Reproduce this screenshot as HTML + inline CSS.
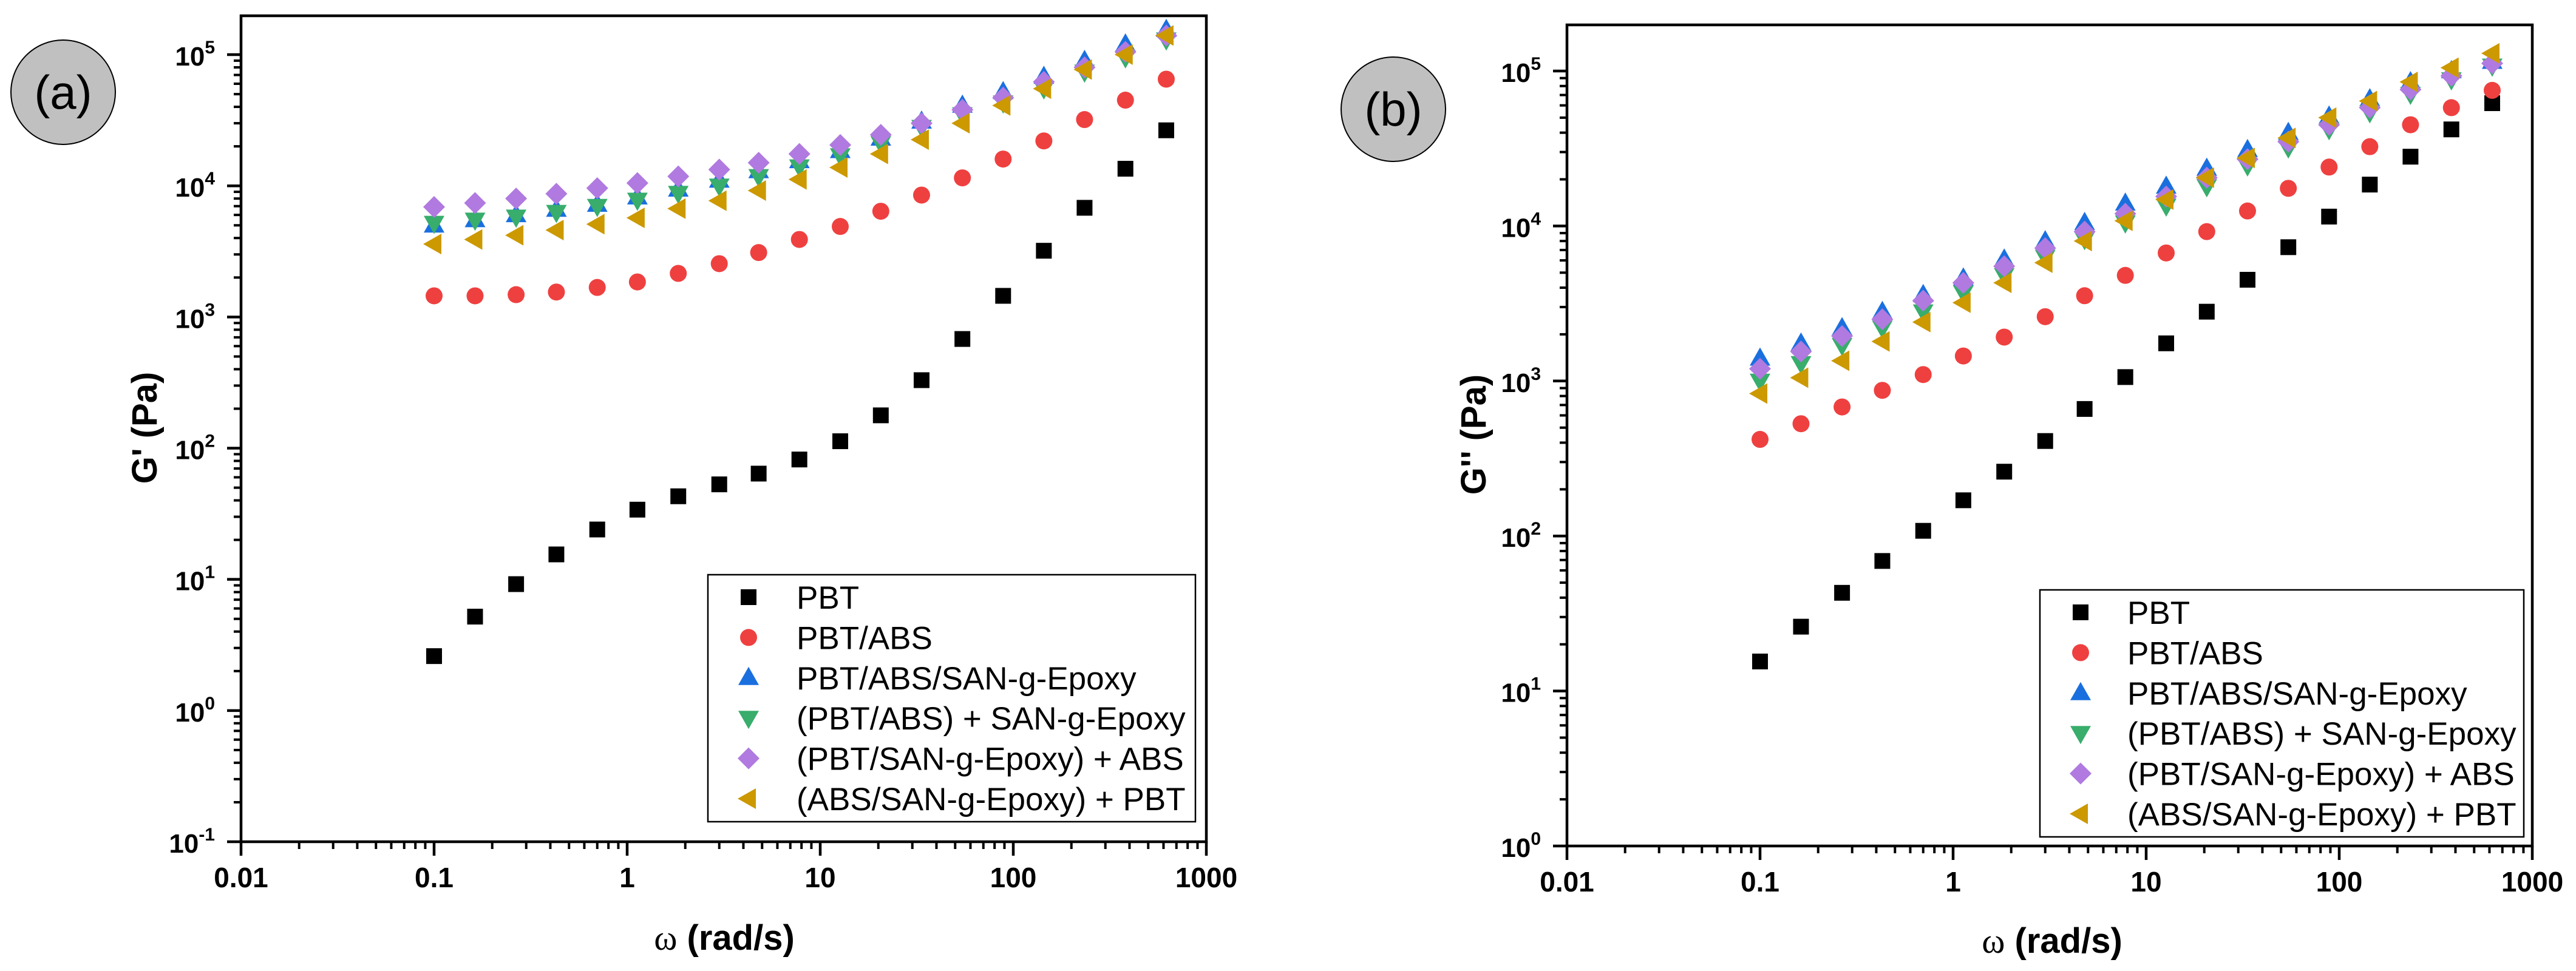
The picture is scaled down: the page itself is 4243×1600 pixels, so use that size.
<!DOCTYPE html>
<html><head><meta charset="utf-8"><style>
html,body{margin:0;padding:0;background:#fff;}
svg{display:block;font-family:"Liberation Sans",Arial,sans-serif;}
</style></head><body>
<svg id="fig" width="4243" height="1600" viewBox="0 0 4243 1600" xmlns="http://www.w3.org/2000/svg">
<rect x="0" y="0" width="4243" height="1600" fill="#fff"/>
</svg>
<script>
const omega = [0.1,0.163,0.266,0.43,0.7,1.13,1.84,3,4.8,7.8,12.7,20.6,33.5,54.5,88.6,144,234,381,620];
const seriesNames = ["PBT","PBT/ABS","PBT/ABS/SAN-g-Epoxy","(PBT/ABS) + SAN-g-Epoxy","(PBT/SAN-g-Epoxy) + ABS","(ABS/SAN-g-Epoxy) + PBT"];
const aPBT = [2.6,5.2,9.2,15.5,24,34,43,53,64,82,113,178,330,680,1450,3200,6800,13500,26500];
const aPBTABS = [1450,1450,1480,1550,1680,1850,2150,2550,3100,3900,4900,6400,8500,11500,16000,22000,32000,45000,65000];
const aBlue = [5000,5500,6000,6600,7200,8200,9400,11000,13000,15500,18500,23000,31000,41000,52000,68000,90000,120000,155000];
const aGreen = [5200,5500,5800,6300,7000,7800,8800,10000,11800,14000,17000,21000,28000,35000,43000,55000,74000,95000,130000];
const aPurple = [6900,7400,8000,8700,9600,10500,11800,13300,15000,17500,20500,24500,30000,38000,47000,62000,80000,105000,140000];
const aGold = [3600,3900,4200,4600,5100,5700,6700,7700,9200,11200,13800,17500,22500,30000,41000,55000,77000,100000,140000];
const bPBT = [15.5,26,43,69,108,170,260,410,660,1060,1750,2800,4500,7300,11500,18500,28000,42000,62000];
const bPBTABS = [420,530,680,870,1100,1450,1920,2600,3550,4800,6700,9200,12500,17500,24000,32500,45000,58000,75000];
const bBlue = [1400,1750,2200,2800,3600,4600,6100,8000,10500,14000,18000,23500,31000,40000,51000,66000,85000,100000,115000];
const bGreen = [1000,1300,1700,2200,2800,3700,4800,6300,8200,10500,13500,18000,24500,32000,42000,54000,71000,88000,108000];
const bPurple = [1200,1550,1950,2500,3300,4300,5500,7200,9200,12000,15500,20500,27000,35000,45000,58000,76000,93000,112000];
const bGold = [830,1050,1350,1800,2400,3200,4300,5800,8000,10800,14800,20500,27500,37000,50000,64000,85000,105000,130000];
const xTickLabels = ["0.01","0.1","1","10","100","1000"];
const aYExp = [-1,0,1,2,3,4,5];
const bYExp = [0,1,2,3,4,5];

const NS="http://www.w3.org/2000/svg";
const svg=document.getElementById('fig');
function mk(tag,attrs,parent){const e=document.createElementNS(NS,tag);for(const k in attrs)e.setAttribute(k,attrs[k]);(parent||svg).appendChild(e);return e;}
const colors=["#000000","#ef4040","#1a6fdf","#38ad6c","#b07ae0","#cc9900"];
const shapes=["square","circle","up","down","diamond","left"];

function marker(g,shape,cx,cy,color){
  let e;
  if(shape==="square") e=mk('rect',{x:cx-13,y:cy-13,width:26,height:26,fill:color},g);
  else if(shape==="circle") e=mk('circle',{cx:cx,cy:cy,r:14,fill:color},g);
  else if(shape==="up") e=mk('polygon',{points:`${cx},${cy-18} ${cx+17},${cy+12} ${cx-17},${cy+12}`,fill:color},g);
  else if(shape==="down") e=mk('polygon',{points:`${cx},${cy+18} ${cx+17},${cy-12} ${cx-17},${cy-12}`,fill:color},g);
  else if(shape==="diamond") e=mk('polygon',{points:`${cx},${cy-18} ${cx+18},${cy} ${cx},${cy+18} ${cx-18},${cy}`,fill:color},g);
  else e=mk('polygon',{points:`${cx-18},${cy} ${cx+12},${cy-17} ${cx+12},${cy+17}`,fill:color},g);
  return e;
}

function panel(cfg){
  const g=mk('g',{});
  
  
  const {L,R,T,B,xmin,xmax,ymin,ymax}=cfg;
  const xs=v=>L+(Math.log10(v)-xmin)/(xmax-xmin)*(R-L);
  const ys=v=>B-(Math.log10(v)-ymin)/(ymax-ymin)*(B-T);
  // label circle
  const lc=mk('g',{},g);
  
  
  mk('circle',{cx:cfg.lx,cy:cfg.ly,r:86,fill:"#c0c0c0",stroke:"#000","stroke-width":2},lc);
  const lt=mk('text',{x:cfg.lx,y:cfg.ly+27,"text-anchor":"middle","font-size":78},lc);lt.textContent=cfg.label;
  // data
  const dg=mk('g',{},g);
  
  
  cfg.data.forEach((arr,si)=>{
    const sg=mk('g',{},dg);
    
    
    arr.forEach((v,i)=>{
      const m=marker(sg,shapes[si],xs(omega[i]),ys(v),colors[si]);
      
      
    });
  });
  // axes frame
  const ax=mk('rect',{x:L,y:T,width:R-L,height:B-T,fill:"none",stroke:"#000","stroke-width":4.5},g);
  
  
  // x ticks
  const xg=mk('g',{},g);
  
  
  for(let d=xmin;d<=xmax;d++){
    const x=xs(Math.pow(10,d));
    mk('line',{x1:x,y1:B,x2:x,y2:B+23,stroke:"#000","stroke-width":4.5},xg);
    const t=mk('text',{x:x,y:B+75,"text-anchor":"middle","font-size":46,"font-weight":"bold"},xg);
    t.textContent=xTickLabels[d-xmin];
    if(d<xmax) for(let k=2;k<=9;k++){const xx=xs(k*Math.pow(10,d));mk('line',{x1:xx,y1:B,x2:xx,y2:B+12,stroke:"#000","stroke-width":4},xg);}
  }
  // y ticks
  const yg=mk('g',{},g);
  
  
  cfg.yexp.forEach(d=>{
    const y=ys(Math.pow(10,d));
    mk('line',{x1:L-23,y1:y,x2:L,y2:y,stroke:"#000","stroke-width":4.5},yg);
    const t=mk('text',{x:L-23-20,y:y+18,"text-anchor":"end","font-size":44,"font-weight":"bold"},yg);
    const s1=mk('tspan',{},t);s1.textContent="10";
    const s2=mk('tspan',{dy:-20,"font-size":30},t);s2.textContent=String(d);
    for(let k=2;k<=9;k++){const v=k*Math.pow(10,d);if(Math.log10(v)>ymax)break;const yy=ys(v);mk('line',{x1:L-12,y1:yy,x2:L,y2:yy,stroke:"#000","stroke-width":4},yg);}
  });
  // titles
  const yt=mk('text',{x:cfg.ytx,y:cfg.yty,"text-anchor":"middle","font-size":58,"font-weight":"bold",transform:`rotate(-90 ${cfg.ytx} ${cfg.yty})`},g);
  
  
  yt.textContent=cfg.ytitle;
  const xt=mk('text',{x:cfg.xtx,y:cfg.xty,"text-anchor":"middle","font-size":58,"font-weight":"bold"},g);
  
  
  const w=mk('tspan',{"font-family":"Liberation Serif, serif","font-weight":"normal"},xt);w.textContent="ω";
  const r=mk('tspan',{},xt);r.textContent=" (rad/s)";
  // legend
  const lg=mk('g',{},g);
  
  
  mk('rect',{x:cfg.lgx,y:cfg.lgy,width:cfg.lgw,height:cfg.lgh,fill:"#fff",stroke:"#000","stroke-width":2.5},lg);
  seriesNames.forEach((n,i)=>{
    const e=mk('g',{},lg);
    
    
    const by=cfg.lgb0+i*66.4;
    marker(e,shapes[i],cfg.lgm,by-19,colors[i]);
    const t=mk('text',{x:cfg.lgt,y:by,"font-size":53},e);t.textContent=n;
  });
}

panel({name:'panel-a-storage-modulus',label:'(a)',lx:104,ly:152,L:397,R:1987,T:26,B:1387,xmin:-2,xmax:3,ymin:-1,ymax:5+64/216,
  yexp:aYExp,data:[aPBT,aPBTABS,aBlue,aGreen,aPurple,aGold],ytitle:"G' (Pa)",ytx:258,yty:705,xtx:1193,xty:1565,
  lgx:1166,lgy:947,lgw:803,lgh:407,lgm:1233,lgt:1312,lgb0:1003});
panel({name:'panel-b-loss-modulus',label:'(b)',lx:2295,ly:180,L:2581,R:4171,T:41,B:1394,xmin:-2,xmax:3,ymin:0,ymax:5+76/255.4,
  yexp:bYExp,data:[bPBT,bPBTABS,bBlue,bGreen,bPurple,bGold],ytitle:"G'' (Pa)",ytx:2447,yty:716,xtx:3380,xty:1570,
  lgx:3360,lgy:972,lgw:797,lgh:407,lgm:3427,lgt:3504,lgb0:1028});
</script>
</body></html>
